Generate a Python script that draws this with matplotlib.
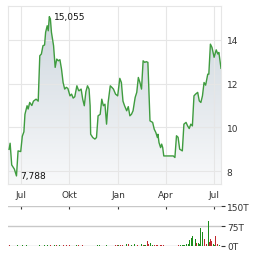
import matplotlib
matplotlib.use("Agg")
import matplotlib.pyplot as plt
import matplotlib.dates as mdates
import numpy as np
import pandas as pd
from matplotlib.colors import LinearSegmentedColormap

# Schlusskurse
price_dates = [
    "2024-06-09", "2024-06-11", "2024-06-14", "2024-06-19", "2024-06-23", "2024-06-26",
    "2024-07-01", "2024-07-04", "2024-07-07", "2024-07-09", "2024-07-13", "2024-07-15",
    "2024-07-18", "2024-07-22", "2024-07-25", "2024-07-30", "2024-08-03", "2024-08-06",
    "2024-08-09", "2024-08-12", "2024-08-15", "2024-08-17", "2024-08-20", "2024-08-22",
    "2024-08-24", "2024-08-26", "2024-08-28", "2024-09-01", "2024-09-04", "2024-09-07",
    "2024-09-10", "2024-09-13", "2024-09-16", "2024-09-19", "2024-09-22", "2024-09-25",
    "2024-09-28", "2024-10-02", "2024-10-05", "2024-10-08", "2024-10-11", "2024-10-15",
    "2024-10-18", "2024-10-19", "2024-10-23", "2024-10-26", "2024-10-29", "2024-11-01",
    "2024-11-04", "2024-11-07", "2024-11-09", "2024-11-10", "2024-11-14", "2024-11-18",
    "2024-11-21", "2024-11-24", "2024-11-28", "2024-12-01", "2024-12-04", "2024-12-07",
    "2024-12-10", "2024-12-13", "2024-12-17", "2024-12-20", "2024-12-23", "2024-12-27",
    "2024-12-31", "2025-01-04", "2025-01-07", "2025-01-10", "2025-01-13", "2025-01-17",
    "2025-01-20", "2025-01-23", "2025-01-26", "2025-01-29", "2025-02-02", "2025-02-05",
    "2025-02-08", "2025-02-11", "2025-02-14", "2025-02-17", "2025-02-20", "2025-02-23",
    "2025-02-26", "2025-03-02", "2025-03-07", "2025-03-10", "2025-03-13", "2025-03-16",
    "2025-03-17", "2025-03-19", "2025-03-22", "2025-03-24", "2025-03-26", "2025-03-28",
    "2025-04-02", "2025-04-08", "2025-04-15", "2025-04-18", "2025-04-21", "2025-04-24",
    "2025-04-27", "2025-05-02", "2025-05-05", "2025-05-09", "2025-05-12", "2025-05-15",
    "2025-05-18", "2025-05-21", "2025-05-24", "2025-05-27", "2025-05-31", "2025-06-03",
    "2025-06-06", "2025-06-09", "2025-06-12", "2025-06-15", "2025-06-19", "2025-06-21",
    "2025-06-24", "2025-06-27", "2025-07-01", "2025-07-05", "2025-07-08", "2025-07-10",
    "2025-07-12", "2025-07-14",
]
price_close = [
    9.00, 9.28, 8.29, 8.10, 7.788, 8.93,
    8.90, 9.60, 9.80, 10.60, 10.99, 10.84,
    11.14, 11.00, 11.20, 11.29, 11.20, 13.27,
    13.35, 13.73, 13.76, 14.34, 14.64, 14.41,
    15.055, 14.95, 14.34, 13.73, 12.74, 13.12,
    13.04, 13.09, 12.66, 12.05, 11.75, 11.83,
    11.78, 11.44, 11.52, 11.34, 11.40, 11.90,
    11.70, 11.67, 11.75, 11.29, 10.99, 11.63,
    11.90, 11.75, 10.99, 9.69, 9.54, 9.47,
    9.54, 10.53, 10.60, 11.29, 10.99, 11.06,
    10.15, 11.14, 11.90, 11.83, 11.75, 11.52,
    11.44, 12.24, 12.05, 11.20, 10.99, 10.76,
    10.95, 10.53, 10.60, 10.76, 11.37, 11.60,
    12.28, 12.05, 11.75, 13.04, 12.97, 13.00,
    12.97, 10.30, 10.23, 9.92, 9.77, 9.54,
    9.69, 9.31, 9.08, 9.24, 9.08, 8.70,
    8.70, 8.70, 8.70, 8.63, 9.62, 9.55,
    9.01, 8.93, 10.15, 10.23, 10.07, 9.95,
    10.15, 10.07, 11.44, 11.52, 11.60, 11.21,
    11.14, 11.44, 12.05, 11.93, 12.43, 12.43,
    13.80, 13.65, 13.20, 13.54, 13.35, 13.42,
    13.04, 12.70,
]

# Umsatz in Tausend Stück, 1 = Kurs gestiegen, 0 = gefallen
vol_dates = [
    "2024-06-09", "2024-06-25", "2024-07-05", "2024-07-12", "2024-08-05", "2024-08-15",
    "2024-08-21", "2024-08-26", "2024-09-02", "2024-09-06", "2024-09-13", "2024-09-19",
    "2024-09-25", "2024-10-02", "2024-10-15", "2024-10-18", "2024-10-25", "2024-11-22",
    "2024-11-26", "2024-12-10", "2024-12-27", "2024-12-30", "2025-01-02", "2025-01-06",
    "2025-01-09", "2025-01-17", "2025-01-20", "2025-01-27", "2025-01-31", "2025-02-07",
    "2025-02-14", "2025-02-17", "2025-02-19", "2025-02-21", "2025-02-26", "2025-02-28",
    "2025-03-03", "2025-03-06", "2025-03-10", "2025-03-14", "2025-03-17", "2025-03-21",
    "2025-03-24", "2025-03-27", "2025-04-24", "2025-04-28", "2025-05-02", "2025-05-05",
    "2025-05-07", "2025-05-09", "2025-05-13", "2025-05-16", "2025-05-20", "2025-05-22",
    "2025-05-26", "2025-05-29", "2025-06-02", "2025-06-04", "2025-06-06", "2025-06-10",
    "2025-06-12", "2025-06-16", "2025-06-17", "2025-06-20", "2025-06-23", "2025-06-24",
    "2025-06-26", "2025-06-30", "2025-07-02", "2025-07-04", "2025-07-08", "2025-07-11",
]
vol_values = [
    4, 4, 4, 4, 4, 4,
    4, 4, 4, 4, 4, 4,
    4, 4, 4, 4, 4, 4,
    4, 4, 4, 4, 4, 4,
    4, 6, 8, 4, 8, 4,
    8, 4, 5, 5, 18, 6,
    10, 5, 4, 4, 4, 4,
    4, 4, 4, 4, 4, 4,
    5, 6, 8, 22, 30, 39,
    25, 12, 10, 8, 67, 52,
    25, 8, 6, 96, 16, 27,
    20, 6, 4, 37, 6, 5,
]
vol_up = [
    0, 1, 1, 1, 1, 1,
    1, 0, 1, 0, 1, 0,
    0, 0, 1, 0, 0, 1,
    1, 1, 0, 0, 1, 0,
    0, 1, 0, 1, 1, 0,
    1, 0, 1, 1, 0, 0,
    1, 1, 0, 0, 0, 0,
    0, 0, 0, 1, 1, 1,
    1, 1, 1, 1, 1, 1,
    1, 0, 1, 1, 1, 1,
    0, 1, 0, 1, 0, 0,
    0, 1, 1, 0, 0, 1,
]

tick_dates = ["2024-07-01", "2024-10-01", "2025-01-01", "2025-04-01", "2025-07-01"]
tick_labels = ["Jul", "Okt", "Jan", "Apr", "Jul"]
price_ticks = [8, 10, 12, 14]
vol_ticks = [0, 75, 150]
vol_tick_labels = ["0T", "75T", "150T"]

x_start, x_end = "2024-06-07", "2025-07-14"
y_min, y_max = 7.42, 15.54

line_color = "#3f9c3f"
grid_color = "#e6e6e6"
text_color = "#333333"

fig = plt.figure(figsize=(2.64, 2.55), dpi=100)
ax = fig.add_axes([8 / 264, 1 - 185 / 255, 213 / 264, 178 / 255])
axv = fig.add_axes([8 / 264, 1 - 247 / 255, 213 / 264, 39.7 / 255])

x = mdates.date2num(pd.to_datetime(price_dates))
xlim = mdates.date2num(pd.to_datetime([x_start, x_end]))
xt = mdates.date2num(pd.to_datetime(tick_dates))

# Fläche unter der Kurve mit Verlauf
fill = ax.fill_between(x, price_close, y_min, color="none", lw=0)
cmap = LinearSegmentedColormap.from_list("fade", ["#f8f9fa", "#ccd5dd"])
grad = np.linspace(0, 1, 256).reshape(-1, 1)
im = ax.imshow(grad, aspect="auto", cmap=cmap, origin="lower",
               extent=[xlim[0], xlim[1], y_min, y_max], zorder=1)
im.set_clip_path(fill.get_paths()[0], transform=ax.transData)
ax.plot(x, price_close, color=line_color, lw=1.0, zorder=3)

ax.set_xlim(xlim)
ax.set_ylim(y_min, y_max)
ax.set_xticks(xt)
ax.set_xticklabels(tick_labels)
ax.set_yticks(price_ticks)
ax.yaxis.tick_right()
ax.tick_params(axis="both", length=0, labelsize=6.5, colors=text_color)
ax.tick_params(axis="y", pad=4)
ax.tick_params(axis="x", pad=4)
ax.grid(True, color=grid_color, lw=0.8, zorder=0)
for s in ax.spines.values():
    s.set_color(grid_color)
    s.set_linewidth(0.8)

i_max = int(np.argmax(price_close))
i_min = int(np.argmin(price_close))
for i in (i_max, i_min):
    ax.annotate(f"{price_close[i]:.3f}".replace(".", ","), (x[i], price_close[i]),
                xytext=(3, 0), textcoords="offset points", ha="left", va="center",
                fontsize=6.5, color="#111111", zorder=4)

# Umsatz
xv = mdates.date2num(pd.to_datetime(vol_dates))
colors = ["#1a8c1a" if u else "#c0282d" for u in vol_up]
axv.bar(xv, vol_values, width=1.9, color=colors, zorder=2)
axv.set_xlim(xlim)
axv.set_ylim(0, 150)
axv.set_yticks(vol_ticks)
axv.set_yticklabels(vol_tick_labels)
axv.yaxis.tick_right()
axv.grid(True, axis="y", color="#c8c8c8", lw=1.0, zorder=0)
axv.set_xticks(xt)
axv.tick_params(axis="x", direction="in", top=True, bottom=False, labelbottom=False,
                length=2.5, width=0.8, color="#333333")
axv.tick_params(axis="y", length=3, width=0.8, pad=1.5, labelsize=6.5, colors=text_color)
for s in axv.spines.values():
    s.set_visible(False)

fig.savefig("out.png", dpi=100)
